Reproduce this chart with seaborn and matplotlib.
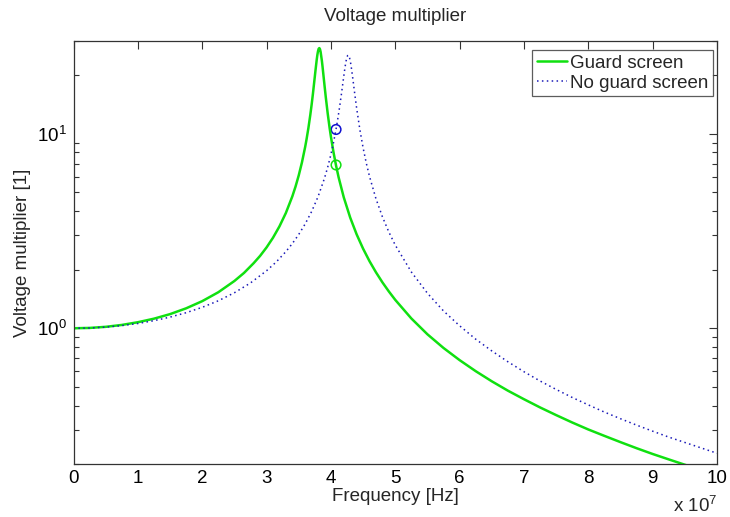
import numpy as np
import pandas as pd
import matplotlib
matplotlib.use("Agg")
import matplotlib.pyplot as plt
import seaborn as sns
from matplotlib.ticker import FixedLocator, FuncFormatter, NullFormatter

# ---- data (frequency in units of 1e7 Hz) ----
freq_guard = [0, 0.25, 0.5, 0.75, 1.0, 1.25, 1.5, 1.75, 2.0, 2.25, 2.5, 2.65, 2.8, 2.9,
              3.0, 3.1, 3.2, 3.3, 3.4, 3.45, 3.5, 3.55, 3.6, 3.62, 3.65, 3.68, 3.7,
              3.72, 3.75, 3.76, 3.78, 3.79, 3.8, 3.81, 3.82, 3.83, 3.84, 3.86, 3.87,
              3.9, 3.92, 3.95, 3.98, 4.0, 4.04, 4.08, 4.12, 4.2, 4.3, 4.4, 4.5, 4.6,
              4.7, 4.8, 4.9, 5.0, 5.25, 5.5, 5.75, 6.0, 6.25, 6.5, 6.75, 7.0, 7.25,
              7.5, 7.75, 8.0, 8.25, 8.5, 8.75, 9.0, 9.25, 9.5, 9.75, 10.0]
volt_guard = [1.000, 1.004, 1.017, 1.040, 1.074, 1.120, 1.182, 1.266, 1.378, 1.531,
              1.749, 1.925, 2.161, 2.355, 2.602, 2.918, 3.336, 3.911, 4.755, 5.341,
              6.100, 7.118, 8.546, 9.291, 10.67, 12.50, 14.05, 15.96, 19.64, 21.07,
              24.05, 25.43, 26.55, 27.29, 27.5, 27.15, 26.30, 23.62, 22.08, 17.76,
              15.42, 12.70, 10.69, 9.643, 8.027, 6.849, 5.957, 4.703, 3.701, 3.036,
              2.564, 2.211, 1.939, 1.722, 1.546, 1.399, 1.123, 0.931, 0.792, 0.686,
              0.602, 0.534, 0.478, 0.432, 0.392, 0.358, 0.328, 0.302, 0.280, 0.260,
              0.242, 0.226, 0.212, 0.199, 0.187, 0.177]

freq_noguard = [0, 0.25, 0.5, 0.75, 1.0, 1.25, 1.5, 1.75, 2.0, 2.25, 2.5, 2.75, 3.0,
                3.15, 3.3, 3.4, 3.5, 3.6, 3.7, 3.8, 3.9, 3.95, 4.0, 4.04, 4.08, 4.1,
                4.13, 4.16, 4.18, 4.2, 4.22, 4.235, 4.25, 4.26, 4.27, 4.28, 4.29,
                4.305, 4.32, 4.34, 4.36, 4.38, 4.4, 4.45, 4.5, 4.55, 4.6, 4.7, 4.8,
                4.9, 5.0, 5.25, 5.5, 5.75, 6.0, 6.25, 6.5, 6.75, 7.0, 7.25, 7.5, 7.75,
                8.0, 8.25, 8.5, 8.75, 9.0, 9.25, 9.5, 9.75, 10.0]
volt_noguard = [1.000, 1.003, 1.014, 1.032, 1.058, 1.094, 1.141, 1.202, 1.281, 1.384,
                1.522, 1.709, 1.975, 2.190, 2.476, 2.722, 3.033, 3.435, 3.976, 4.740,
                5.894, 6.719, 7.817, 8.985, 10.54, 11.52, 13.34, 15.67, 17.58, 19.73,
                21.99, 23.55, 24.73, 25.18, 25.3, 25.06, 24.50, 23.19, 21.55, 19.22,
                17.04, 15.13, 13.51, 10.48, 8.460, 7.050, 6.021, 4.630, 3.740, 3.124,
                2.674, 1.946, 1.513, 1.227, 1.030, 0.879, 0.765, 0.673, 0.598, 0.536,
                0.485, 0.441, 0.404, 0.371, 0.343, 0.318, 0.296, 0.276, 0.259, 0.243,
                0.228]

marker_freq = [4.08, 4.08]
marker_volt = [10.5, 6.9]
marker_series = ["No guard screen", "Guard screen"]

labels = ["Guard screen", "No guard screen"]
xtick_vals = [0, 1, 2, 3, 4, 5, 6, 7, 8, 9, 10]

# ---- styling ----
sns.set_theme(style="white")
plt.rcParams["font.family"] = ["Liberation Sans", "DejaVu Sans"]
plt.rcParams["mathtext.fontset"] = "custom"
plt.rcParams["mathtext.rm"] = "Liberation Sans"
plt.rcParams["mathtext.it"] = "Liberation Sans"
FS = 13.5

green = "#10e010"
blue = "#1a1ab8"

df_g = pd.DataFrame({"f": np.array(freq_guard) * 1e7, "v": volt_guard})
df_b = pd.DataFrame({"f": np.array(freq_noguard) * 1e7, "v": volt_noguard})
df_m = pd.DataFrame({"f": np.array(marker_freq) * 1e7, "v": marker_volt,
                     "s": marker_series})

fig = plt.figure(figsize=(7.30, 5.17), dpi=100)
ax = fig.add_axes([0.1007, 0.1019, 0.8815, 0.8193])

sns.lineplot(data=df_g, x="f", y="v", ax=ax, color=green, linewidth=1.8,
             label=labels[0], sort=False)
sns.lineplot(data=df_b, x="f", y="v", ax=ax, color=blue, linewidth=1.1,
             linestyle=(0, (1, 2.2)), label=labels[1], sort=False)

for s, col in zip(["No guard screen", "Guard screen"], ["#1010d0", green]):
    sub = df_m[df_m["s"] == s]
    sns.scatterplot(data=sub, x="f", y="v", ax=ax, s=48, marker="o",
                    facecolor="none", edgecolor=col, linewidth=1.1, legend=False)

ax.set_yscale("log")
ax.set_xlim(0, 1e8)
ax.set_ylim(0.2, 30)

ax.xaxis.set_major_locator(FixedLocator([v * 1e7 for v in xtick_vals]))
ax.xaxis.set_major_formatter(FuncFormatter(lambda x, p: f"{int(round(x / 1e7))}"))
ax.yaxis.set_major_locator(FixedLocator([1, 10]))
ax.yaxis.set_major_formatter(FuncFormatter(lambda y, p: r"$10^{%d}$" % int(round(np.log10(y)))))
minors = [0.2, 0.3, 0.4, 0.5, 0.6, 0.7, 0.8, 0.9, 2, 3, 4, 5, 6, 7, 8, 9, 20, 30]
ax.yaxis.set_minor_locator(FixedLocator(minors))
ax.yaxis.set_minor_formatter(NullFormatter())

ax.tick_params(axis="both", which="major", direction="in", length=6, width=0.8,
               colors="#333333", labelcolor="black", labelsize=FS,
               top=True, right=True, pad=5)
ax.tick_params(axis="x", which="major", pad=4)
ax.tick_params(axis="y", which="minor", direction="in", length=3.5, width=0.8,
               colors="#333333", left=True, right=True)
for sp in ax.spines.values():
    sp.set_color("#333333")
    sp.set_linewidth(0.9)

ax.set_xlabel("Frequency [Hz]", fontsize=FS, labelpad=1)
ax.set_ylabel("Voltage multiplier [1]", fontsize=FS, labelpad=4)
ax.set_title("Voltage multiplier", fontsize=FS, pad=14)

fig.text(0.982, 0.022, r"x $10^{7}$", ha="right", va="center", fontsize=FS)

leg = ax.legend(loc="upper right", bbox_to_anchor=(0.9938, 0.978),
                borderaxespad=0, fontsize=FS, frameon=True, fancybox=False,
                handlelength=1.6, handletextpad=0.15, borderpad=0.25,
                labelspacing=0.15)
leg.get_frame().set_edgecolor("#333333")
leg.get_frame().set_linewidth(0.9)

fig.savefig("out.png", dpi=100)
